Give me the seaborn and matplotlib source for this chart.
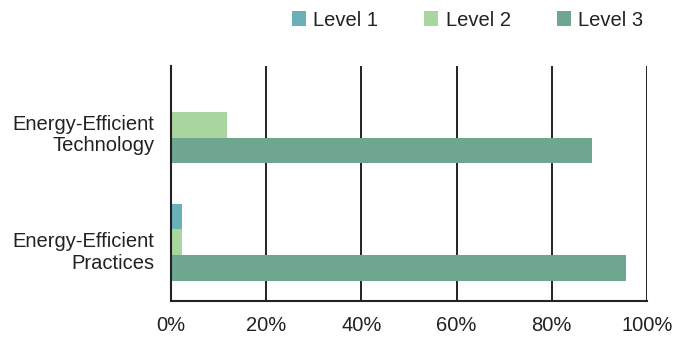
import matplotlib
matplotlib.use("Agg")
import matplotlib.pyplot as plt
from matplotlib.transforms import ScaledTranslation
import seaborn as sns
import pandas as pd

categories = ["Energy-Efficient\nTechnology", "Energy-Efficient\nPractices"]
levels = ["Level 1", "Level 2", "Level 3"]
level1 = [0.0, 2.4]
level2 = [11.7, 2.4]
level3 = [88.4, 95.6]
colors = ["#6BAFB9", "#A9D59E", "#6FA690"]
x_ticks = [0, 20, 40, 60, 80, 100]

rows = []
for lvl, vals in zip(levels, [level1, level2, level3]):
    for cat, v in zip(categories, vals):
        rows.append({"category": cat, "level": lvl, "share": v})
df = pd.DataFrame(rows)

sns.set_theme(style="white")
plt.rcParams["font.family"] = ["Liberation Sans", "DejaVu Sans"]

fig = plt.figure(figsize=(6.77, 3.37), dpi=100)
ax = fig.add_axes([0.2526, 0.1068, 0.7031, 0.6972])

sns.barplot(data=df, y="category", x="share", hue="level", hue_order=levels,
            order=categories, palette=colors, orient="h", width=0.655,
            gap=0, saturation=1, linewidth=0, ax=ax, legend=True)

ax.set_xlim(0, 100)
ax.set_xticks(x_ticks)
ax.set_xticklabels([f"{t}%" for t in x_ticks], fontsize=14.5, color="#222222")
ax.tick_params(axis="x", length=0, pad=11)
ax.tick_params(axis="y", length=0, pad=12)
shift = ScaledTranslation(0, -7 / 100, fig.dpi_scale_trans)
for lab in ax.get_yticklabels():
    lab.set_fontsize(14.5)
    lab.set_color("#222222")
    lab.set_horizontalalignment("right")
    lab.set_multialignment("right")
    lab.set_linespacing(1.15)
    lab.set_transform(lab.get_transform() + shift)
ax.set_xlabel("")
ax.set_ylabel("")

ax.grid(axis="x", color="#222222", linewidth=1.4)
ax.set_axisbelow(True)
for s in ["top", "right"]:
    ax.spines[s].set_visible(False)
for s in ["left", "bottom"]:
    ax.spines[s].set_color("#222222")
    ax.spines[s].set_linewidth(1.5)

ax.legend(loc="center left", bbox_to_anchor=(0.254, 1.196), ncol=3, frameon=False,
          fontsize=14.5, handlelength=0.7, handleheight=0.7, handletextpad=0.35,
          columnspacing=2.3, labelcolor="#222222", borderaxespad=0, borderpad=0)

fig.savefig("out.png", dpi=100)
